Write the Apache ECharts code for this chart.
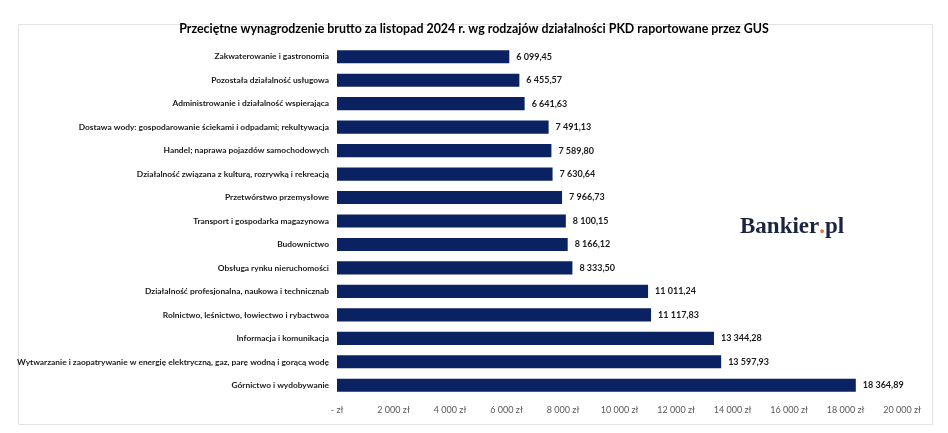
<!DOCTYPE html>
<html><head><meta charset="utf-8">
<script src="https://cdn.jsdelivr.net/npm/echarts@6/dist/echarts.min.js"></script>
<style>html,body{margin:0;padding:0;background:#fff}#c{width:948px;height:433px}</style>
</head><body><div id="c"></div>
<script>
const titleText = 'Przeciętne wynagrodzenie brutto za listopad 2024 r. wg rodzajów działalności PKD raportowane przez GUS';
const categories = [
  'Zakwaterowanie i gastronomia',
  'Pozostała działalność usługowa',
  'Administrowanie i działalność wspierająca',
  'Dostawa wody: gospodarowanie ściekami i odpadami; rekultywacja',
  'Handel; naprawa pojazdów samochodowych',
  'Działalność związana z kulturą, rozrywką i rekreacją',
  'Przetwórstwo przemysłowe',
  'Transport i gospodarka magazynowa',
  'Budownictwo',
  'Obsługa rynku nieruchomości',
  'Działalność profesjonalna, naukowa i technicznab',
  'Rolnictwo, leśnictwo, łowiectwo i rybactwoa',
  'Informacja i komunikacja',
  'Wytwarzanie i zaopatrywanie w energię elektryczną, gaz, parę wodną i gorącą wodę',
  'Górnictwo i wydobywanie'
];
const values = [6099.45, 6455.57, 6641.63, 7491.13, 7589.80, 7630.64, 7966.73, 8100.15, 8166.12, 8333.50, 11011.24, 11117.83, 13344.28, 13597.93, 18364.89];
const axisMin = 0, axisMax = 20000, axisStep = 2000;

function groupThousands(s){ return s.replace(/\B(?=(\d{3})+(?!\d))/g, ' '); }
function fmtValue(v){ const p = v.toFixed(2).split('.'); return groupThousands(p[0]) + ',' + p[1]; }
function fmtTick(v){ return v === 0 ? '- zł' : groupThousands(String(v)) + ' zł'; }

const FONT = 'Lato, "Liberation Sans", sans-serif';
const chart = echarts.init(document.getElementById('c'), null, {renderer: 'canvas'});
chart.setOption({
  backgroundColor: '#ffffff',
  animation: false,
  title: {
    text: titleText, left: 'center', top: 18,
    textStyle: {fontFamily: FONT, fontSize: 12.4, fontWeight: 'bold', color: '#000000'}
  },
  grid: {left: 337, right: 46, top: 45, bottom: 36, containLabel: false, outerBoundsMode: 'none'},
  xAxis: {
    type: 'value', min: axisMin, max: axisMax, interval: axisStep,
    axisLine: {show: false}, axisTick: {show: false}, splitLine: {show: false},
    axisLabel: {formatter: fmtTick, color: '#595959', fontFamily: FONT, fontSize: 9, margin: 9}
  },
  yAxis: {
    type: 'category', data: categories, inverse: true,
    axisLine: {show: false}, axisTick: {show: false},
    axisLabel: {color: '#1a1a1a', fontFamily: FONT, fontSize: 8.4, fontWeight: 'bold', margin: 8}
  },
  series: [{
    type: 'bar', data: values, barCategoryGap: '44%',
    itemStyle: {color: '#0b2262'},
    label: {show: true, position: 'right', distance: 7, formatter: p => fmtValue(p.value),
      color: '#1a1a1a', fontFamily: FONT, fontSize: 9, fontWeight: 'bold'}
  }],
  graphic: [
    {type: 'rect', left: 16, top: 22, shape: {width: 914, height: 400}, z: -1, silent: true,
     style: {fill: 'none', stroke: '#e3e3e3', lineWidth: 1}},
    {type: 'text', left: 740, top: 216, z: 10, silent: true,
     style: {text: '{a|Bankier}{b|.}{a|pl}', rich: {
       a: {fontFamily: '"Liberation Serif", "DejaVu Serif", serif', fontSize: 23, fontWeight: 'bold', fill: '#1b2542'},
       b: {fontFamily: '"Liberation Serif", "DejaVu Serif", serif', fontSize: 23, fontWeight: 'bold', fill: '#e8743b'}
     }}}
  ]
});
</script></body></html>
